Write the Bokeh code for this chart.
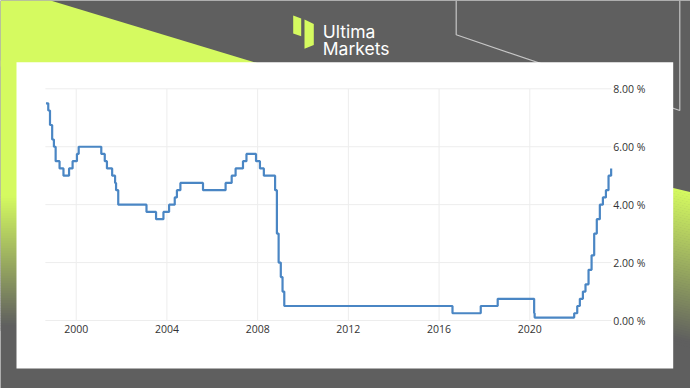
import pandas as pd
from datetime import datetime
from bokeh.plotting import figure
from bokeh.models import Range1d, ColumnDataSource
from bokeh.core.properties import value
from bokeh.embed import file_html
from bokeh.resources import INLINE

# ---------------- data (Bank rate, %) ----------------
dates = ["1998-09-01", "1998-10-08", "1998-11-05", "1998-12-10",
         "1999-01-07", "1999-02-04", "1999-04-08", "1999-06-10", "1999-09-08", "1999-11-04",
         "2000-01-13", "2000-02-10",
         "2001-02-08", "2001-04-05", "2001-05-10", "2001-08-02", "2001-09-18", "2001-10-04", "2001-11-08",
         "2003-02-06", "2003-07-10", "2003-11-06",
         "2004-02-05", "2004-05-06", "2004-06-10", "2004-08-05",
         "2005-08-04",
         "2006-08-03", "2006-11-09",
         "2007-01-11", "2007-05-10", "2007-07-05", "2007-12-06",
         "2008-02-07", "2008-04-10", "2008-10-08", "2008-11-06", "2008-12-04",
         "2009-01-08", "2009-02-05", "2009-03-05",
         "2016-08-04", "2017-11-02", "2018-08-02",
         "2020-03-11", "2020-03-19", "2021-12-16",
         "2022-02-03", "2022-03-17", "2022-05-05", "2022-06-16", "2022-08-04", "2022-09-22",
         "2022-11-03", "2022-12-15",
         "2023-02-02", "2023-03-23", "2023-05-11", "2023-06-22", "2023-08-03"]
rates = [7.5, 7.25, 6.75, 6.25,
         6.0, 5.5, 5.25, 5.0, 5.25, 5.5,
         5.75, 6.0,
         5.75, 5.5, 5.25, 5.0, 4.75, 4.5, 4.0,
         3.75, 3.5, 3.75,
         4.0, 4.25, 4.5, 4.75,
         4.5,
         4.75, 5.0,
         5.25, 5.5, 5.75, 5.5,
         5.25, 5.0, 4.5, 3.0, 2.0,
         1.5, 1.0, 0.5,
         0.25, 0.5, 0.75,
         0.25, 0.1, 0.25,
         0.5, 0.75, 1.0, 1.25, 1.75, 2.25,
         3.0, 3.5,
         4.0, 4.25, 4.5, 5.0, 5.25]
x_tick_years = [2000, 2004, 2008, 2012, 2016, 2020]
y_ticks = [0, 2, 4, 6, 8]
brand_lines = ["Ultima", "Markets"]
plot_start, plot_end = "1998-08-22", "2023-08-05"

# ---------------- style ----------------
GREY = "#5f5f5f"
LIME = "#d5fa60"
LINE = "#4a86c4"
GRID = "#ededed"
TXT = "#333333"
FONT = "Open Sans"
W, H = 690, 388


def ms(s):
    return pd.Timestamp(s).timestamp() * 1000.0


# pixel layout of the chart area inside the canvas
PX_2000, PX_2020 = 75.7, 529.3
PY_0, PY_8 = 320.0, 88.3
kx = (PX_2020 - PX_2000) / (ms("2020-01-01") - ms("2000-01-01"))
ky = (PY_0 - PY_8) / 8.0
date_range = Range1d(ms("2000-01-01") - PX_2000 / kx, ms("2000-01-01") + (W - PX_2000) / kx)
rate_range = Range1d(-(H - PY_0) / ky, PY_0 / ky)

p = figure(width=W, height=H, output_backend="svg", toolbar_location=None,
           x_range=Range1d(0, W), y_range=Range1d(H, 0),
           x_axis_location=None, y_axis_location=None,
           min_border=0, min_border_left=0, min_border_right=0,
           min_border_top=0, min_border_bottom=0,
           background_fill_color=GREY, border_fill_color=GREY,
           outline_line_color=None)
p.grid.visible = False
p.extra_x_ranges = {"date": date_range}
p.extra_y_ranges = {"rate": rate_range}


def mix(c1, c2, t):
    t = max(0.0, min(1.0, t))
    a = [int(c1[i:i + 2], 16) for i in (1, 3, 5)]
    b = [int(c2[i:i + 2], 16) for i in (1, 3, 5)]
    return "#%02x%02x%02x" % tuple(round(a[k] + (b[k] - a[k]) * t) for k in range(3))


PT, PB, PL, PR = 61.7, 368.0, 16.0, 672.7   # white panel edges

# ---------------- decorative backdrop ----------------
pxs, pys, pcs = [], [], []
# top-left lime wedge + solid strip
pxs.append([0, 50, 50 + 66 * 205 / 62, 0]); pys.append([0, 0, 66, 66]); pcs.append(LIME)
pxs.append([0, PL + 1, PL + 1, 0]); pys.append([60, 60, 195.5, 195.5]); pcs.append(LIME)
y = 195.0
while y < 330:
    pxs.append([0, PL + 1, PL + 1, 0]); pys.append([y, y, y + 3.0, y + 3.0])
    pcs.append(mix(LIME, GREY, (y + 1.2 - 195) / 130))
    y += 2.5


def top_r(x):
    return 187.5 + (x - PR) * 0.243


d = 0.0
while d < 155:
    pxs.append([PR - 1, W, W, PR - 1])
    pys.append([top_r(PR - 1) + d, top_r(W) + d, top_r(W) + d + 3.0, top_r(PR - 1) + d + 3.0])
    pcs.append(mix(LIME, GREY, (d + 1.2) / 150))
    d += 2.5
p.patches(pxs, pys, fill_color=pcs, line_color=None)

# thin outline lines top-right
p.line([455.7, 455.7, 679.3, 679.3], [0, 34.3, 110.0, 0], line_color="#c6c6c6", line_width=1.2)

# white panel
p.patch([PL, PR, PR, PL], [PT, PT, PB, PB], fill_color="white", line_color=None)

# logo mark and name
p.patches([[292.7, 300.7, 300.7, 292.7], [304.0, 313.3, 313.3, 304.0]],
          [[15.0, 18.0, 35.7, 33.0], [19.0, 23.5, 44.5, 48.3]],
          fill_color=LIME, line_color=None)
p.text(x=[322.3, 322.3], y=[30.7, 47.7], text=brand_lines, text_color="white",
       text_font=value("Inter"), text_font_size="17.5px",
       text_align="left", text_baseline="alphabetic")

# ---------------- chart (data scales) ----------------
xt = [ms(f"{yr}-01-01") for yr in x_tick_years]
x0, x1 = ms(plot_start), ms(plot_end)
p.segment(x0=xt, y0=[y_ticks[0]] * len(xt), x1=xt, y1=[y_ticks[-1]] * len(xt),
          x_range_name="date", y_range_name="rate", line_color=GRID, line_width=1)
p.segment(x0=[x0] * len(y_ticks), y0=y_ticks, x1=[x1] * len(y_ticks), y1=y_ticks,
          x_range_name="date", y_range_name="rate", line_color=GRID, line_width=1)

src = ColumnDataSource(dict(date=[ms(s) for s in dates], rate=rates))
p.step(x="date", y="rate", source=src, mode="after", line_color=LINE, line_width=2.2,
       x_range_name="date", y_range_name="rate")

# tick labels
p.text(x=xt, y=[y_ticks[0]] * len(xt), text=[str(yr) for yr in x_tick_years],
       x_range_name="date", y_range_name="rate", y_offset=4,
       text_align="center", text_baseline="top", text_color=TXT,
       text_font=value(FONT), text_font_size="10.5px")
p.text(x=[x1] * len(y_ticks), y=y_ticks, text=["%.2f %%" % v for v in y_ticks],
       x_range_name="date", y_range_name="rate", x_offset=2,
       text_align="left", text_baseline="middle", text_color=TXT,
       text_font=value(FONT), text_font_size="10.5px")

open("out.html", "w").write(file_html(p, INLINE))
